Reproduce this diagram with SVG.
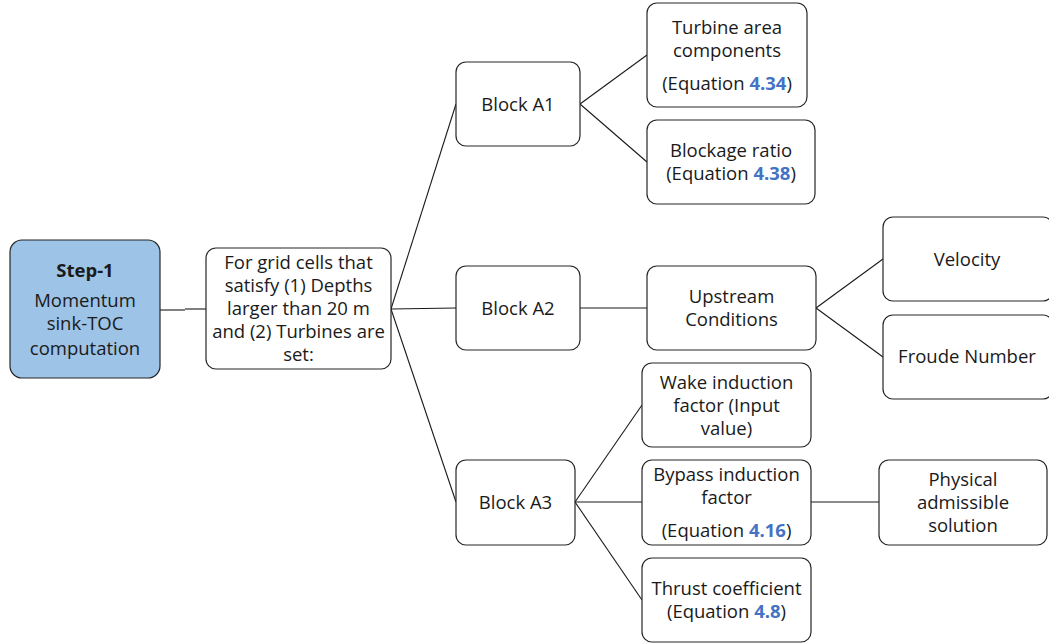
<svg xmlns="http://www.w3.org/2000/svg" width="1049" height="644" viewBox="0 0 1049 644">
  <style>
    .box { fill: #ffffff; stroke: #262626; stroke-width: 1.2; }
    .step { fill: #9dc3e6; stroke: #262626; stroke-width: 1.2; }
    .lbl { font-family: "Open Sans", "Liberation Sans", sans-serif; font-size: 18.5px; fill: #1a1a1a; text-anchor: middle; }
    .b { font-weight: bold; }
    .ref { fill: #4472c4; font-weight: bold; }
    .conn line { stroke: #1a1a1a; stroke-width: 1.1; }
  </style>

  <g id="connectors" class="conn">
    <line x1="160" y1="310" x2="185" y2="310"/>
    <line x1="185" y1="309" x2="206" y2="309"/>
    <line x1="391" y1="309" x2="456" y2="104"/>
    <line x1="391" y1="309" x2="456" y2="308"/>
    <line x1="391" y1="309" x2="456" y2="502"/>
    <line x1="580" y1="104" x2="647" y2="55"/>
    <line x1="580" y1="104" x2="647" y2="162"/>
    <line x1="580" y1="308" x2="647" y2="308"/>
    <line x1="816" y1="308" x2="883" y2="259"/>
    <line x1="816" y1="308" x2="883" y2="357"/>
    <line x1="575" y1="502" x2="642" y2="405"/>
    <line x1="575" y1="502" x2="642" y2="502"/>
    <line x1="575" y1="502" x2="642" y2="600"/>
    <line x1="811" y1="502" x2="879" y2="502"/>
  </g>

  <g id="step1">
    <rect class="step" x="10" y="240" width="150" height="138" rx="12"/>
    <text class="lbl b" x="85" y="277">Step-1</text>
    <text class="lbl" x="85" y="307">Momentum</text>
    <text class="lbl" x="85" y="330">sink-TOC</text>
    <text class="lbl" x="85" y="355">computation</text>
  </g>

  <g id="grid-cells">
    <rect class="box" x="206" y="248" width="185" height="121" rx="10"/>
    <text class="lbl" x="298.5" y="269">For grid cells that</text>
    <text class="lbl" x="298.5" y="292">satisfy (1) Depths</text>
    <text class="lbl" x="298.5" y="315">larger than 20 m</text>
    <text class="lbl" x="298.5" y="338">and (2) Turbines are</text>
    <text class="lbl" x="298.5" y="361">set:</text>
  </g>

  <g id="block-a1">
    <rect class="box" x="456" y="62" width="124" height="84" rx="10"/>
    <text class="lbl" x="518" y="111">Block A1</text>
  </g>

  <g id="block-a2">
    <rect class="box" x="456" y="266" width="124" height="84" rx="10"/>
    <text class="lbl" x="518" y="315">Block A2</text>
  </g>

  <g id="block-a3">
    <rect class="box" x="456" y="460" width="119" height="85" rx="10"/>
    <text class="lbl" x="515.5" y="509">Block A3</text>
  </g>

  <g id="turbine-area">
    <rect class="box" x="647" y="3" width="160" height="104" rx="10"/>
    <text class="lbl" x="727" y="34">Turbine area</text>
    <text class="lbl" x="727" y="57">components</text>
    <text class="lbl" x="727" y="90">(Equation <tspan class="ref">4.34</tspan>)</text>
  </g>

  <g id="blockage-ratio">
    <rect class="box" x="647" y="120" width="168" height="84" rx="10"/>
    <text class="lbl" x="731" y="157">Blockage ratio</text>
    <text class="lbl" x="731" y="180">(Equation <tspan class="ref">4.38</tspan>)</text>
  </g>

  <g id="upstream">
    <rect class="box" x="647" y="266" width="169" height="84" rx="10"/>
    <text class="lbl" x="731.5" y="303">Upstream</text>
    <text class="lbl" x="731.5" y="326">Conditions</text>
  </g>

  <g id="velocity">
    <rect class="box" x="883" y="217" width="170" height="84" rx="10"/>
    <text class="lbl" x="967" y="266">Velocity</text>
  </g>

  <g id="froude">
    <rect class="box" x="883" y="315" width="170" height="84" rx="10"/>
    <text class="lbl" x="967" y="363">Froude Number</text>
  </g>

  <g id="wake-induction">
    <rect class="box" x="642" y="363" width="169" height="84" rx="10"/>
    <text class="lbl" x="726.5" y="389">Wake induction</text>
    <text class="lbl" x="726.5" y="412">factor (Input</text>
    <text class="lbl" x="726.5" y="435">value)</text>
  </g>

  <g id="bypass-induction">
    <rect class="box" x="642" y="460" width="169" height="85" rx="10"/>
    <text class="lbl" x="726.5" y="481">Bypass induction</text>
    <text class="lbl" x="726.5" y="504">factor</text>
    <text class="lbl" x="726.5" y="537">(Equation <tspan class="ref">4.16</tspan>)</text>
  </g>

  <g id="thrust-coefficient">
    <rect class="box" x="642" y="558" width="169" height="84" rx="10"/>
    <text class="lbl" x="726.5" y="595">Thrust coefficient</text>
    <text class="lbl" x="726.5" y="618">(Equation <tspan class="ref">4.8</tspan>)</text>
  </g>

  <g id="physical-solution">
    <rect class="box" x="879" y="460" width="168" height="85" rx="10"/>
    <text class="lbl" x="963" y="486">Physical</text>
    <text class="lbl" x="963" y="509">admissible</text>
    <text class="lbl" x="963" y="532">solution</text>
  </g>
</svg>
